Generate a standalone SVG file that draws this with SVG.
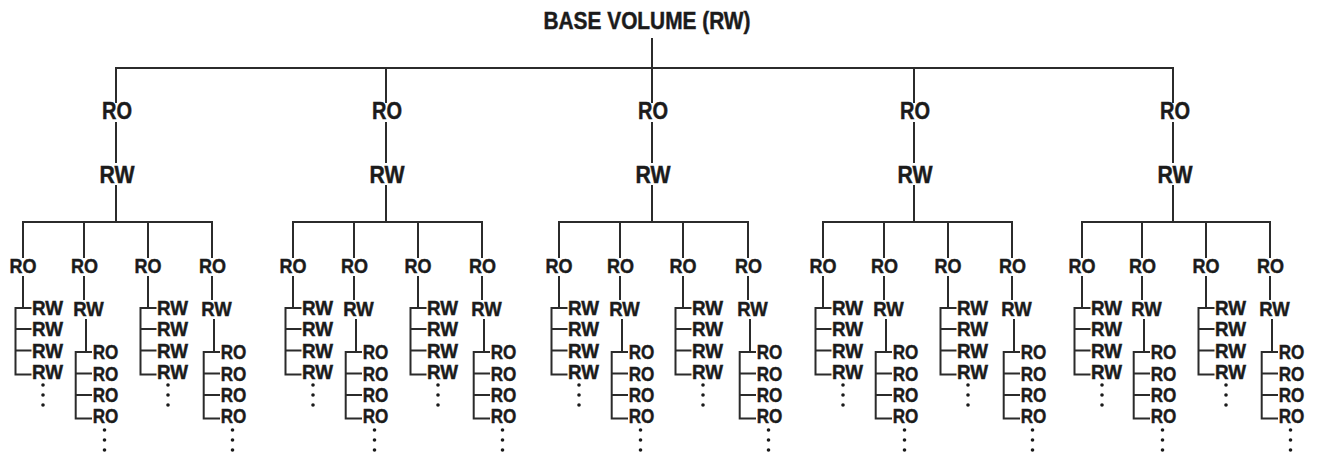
<svg xmlns="http://www.w3.org/2000/svg" xmlns:xlink="http://www.w3.org/1999/xlink" width="1320" height="453" viewBox="0 0 1320 453">
<style>
.t{font-family:"Liberation Sans",Arial,sans-serif;font-weight:bold;fill:#1b1b1b;stroke:#1b1b1b;stroke-width:0.45px}
.top{font-size:23px;text-anchor:middle}
.l1{font-size:23.5px;text-anchor:middle}
.l2{font-size:21px;text-anchor:middle}
.l2b{font-size:20.5px;text-anchor:middle}
.li{font-size:20px}
.c{fill:none;stroke:#2b2b2b;stroke-width:2;stroke-linecap:square}
.d{fill:#1b1b1b}
</style>
<defs>
<path id="ca" class="c" d="M0,222V257 M0,277V308 M-7.5,308V374.5 M-7.5,308H7.5 M-7.5,329H7.5 M-7.5,350.5H7.5 M-7.5,374.5H7.5"/>
<path id="cb" class="c" d="M0,222V257 M0,277V299 M2,320V352 M-8.3,352V418.5 M-8.3,352H7 M-8.3,373.5H7 M-8.3,395H7 M-8.3,418.5H7"/>
<g id="dots" class="d"><circle cx="0" cy="0" r="1.8"/><circle cx="0" cy="10" r="1.8"/><circle cx="0" cy="20" r="1.8"/></g>
</defs>
<rect width="1320" height="453" fill="#ffffff"/>
<g id="connectors">
<path class="c" d="M652,39V68 M116,68H1173"/>
<path class="c" d="M116,68V102 M116,123V162 M116,186V222 M23,222H212"/>
<path class="c" d="M386,68V102 M386,123V162 M386,186V222 M293,222H482"/>
<path class="c" d="M652,68V102 M652,123V162 M652,186V222 M559,222H748"/>
<path class="c" d="M914,68V102 M914,123V162 M914,186V222 M823,222H1012"/>
<path class="c" d="M1173,68V102 M1173,123V162 M1173,186V222 M1082,222H1270"/>
<use xlink:href="#ca" x="23"/><use xlink:href="#cb" x="84"/><use xlink:href="#ca" x="148"/><use xlink:href="#cb" x="212"/>
<use xlink:href="#ca" x="293"/><use xlink:href="#cb" x="354"/><use xlink:href="#ca" x="418"/><use xlink:href="#cb" x="482"/>
<use xlink:href="#ca" x="559"/><use xlink:href="#cb" x="620"/><use xlink:href="#ca" x="683"/><use xlink:href="#cb" x="748"/>
<use xlink:href="#ca" x="823"/><use xlink:href="#cb" x="884"/><use xlink:href="#ca" x="948"/><use xlink:href="#cb" x="1012"/>
<use xlink:href="#ca" x="1082"/><use xlink:href="#cb" x="1142"/><use xlink:href="#ca" x="1206"/><use xlink:href="#cb" x="1270"/>
</g>
<g id="base"><text class="t top" x="647" y="29" textLength="207" lengthAdjust="spacingAndGlyphs">BASE VOLUME (RW)</text></g>

<g id="s1" transform="translate(116,0)">
<g id="s1-ro"><text class="t l1" x="1" y="119" textLength="30" lengthAdjust="spacingAndGlyphs">RO</text></g>
<g id="s1-rw"><text class="t l1" x="1" y="183" textLength="35" lengthAdjust="spacingAndGlyphs">RW</text></g>
</g>
<g id="s2" transform="translate(386,0)">
<g id="s2-ro"><text class="t l1" x="1" y="119" textLength="30" lengthAdjust="spacingAndGlyphs">RO</text></g>
<g id="s2-rw"><text class="t l1" x="1" y="183" textLength="35" lengthAdjust="spacingAndGlyphs">RW</text></g>
</g>
<g id="s3" transform="translate(652,0)">
<g id="s3-ro"><text class="t l1" x="1" y="119" textLength="30" lengthAdjust="spacingAndGlyphs">RO</text></g>
<g id="s3-rw"><text class="t l1" x="1" y="183" textLength="35" lengthAdjust="spacingAndGlyphs">RW</text></g>
</g>
<g id="s4" transform="translate(914,0)">
<g id="s4-ro"><text class="t l1" x="1" y="119" textLength="30" lengthAdjust="spacingAndGlyphs">RO</text></g>
<g id="s4-rw"><text class="t l1" x="1" y="183" textLength="35" lengthAdjust="spacingAndGlyphs">RW</text></g>
</g>
<g id="s5" transform="translate(1173,0)">
<g id="s5-ro"><text class="t l1" x="2" y="119" textLength="30" lengthAdjust="spacingAndGlyphs">RO</text></g>
<g id="s5-rw"><text class="t l1" x="2" y="183" textLength="35" lengthAdjust="spacingAndGlyphs">RW</text></g>
</g>

<!-- subtree 1 children -->
<g id="s1-a1" transform="translate(23,0)">
<g id="s1-a1-ro"><text class="t l2" y="273" textLength="27" lengthAdjust="spacingAndGlyphs">RO</text></g>
<g id="s1-a1-rw1"><text class="t li" x="9" y="315" textLength="31" lengthAdjust="spacingAndGlyphs">RW</text></g>
<g id="s1-a1-rw2"><text class="t li" x="9" y="336" textLength="31" lengthAdjust="spacingAndGlyphs">RW</text></g>
<g id="s1-a1-rw3"><text class="t li" x="9" y="357.5" textLength="31" lengthAdjust="spacingAndGlyphs">RW</text></g>
<g id="s1-a1-rw4"><text class="t li" x="9" y="378.5" textLength="31" lengthAdjust="spacingAndGlyphs">RW</text></g>
<use xlink:href="#dots" x="20" y="385"/>
</g>
<g id="s1-b1" transform="translate(84,0)">
<g id="s1-b1-ro"><text class="t l2" x="0.5" y="273" textLength="27" lengthAdjust="spacingAndGlyphs">RO</text></g>
<g id="s1-b1-rw"><text class="t l2b" x="4.5" y="316" textLength="30.5" lengthAdjust="spacingAndGlyphs">RW</text></g>
<g id="s1-b1-ro1"><text class="t li" x="8.7" y="359.3" textLength="25.6" lengthAdjust="spacingAndGlyphs">RO</text></g>
<g id="s1-b1-ro2"><text class="t li" x="8.7" y="381" textLength="25.6" lengthAdjust="spacingAndGlyphs">RO</text></g>
<g id="s1-b1-ro3"><text class="t li" x="8.7" y="402" textLength="25.6" lengthAdjust="spacingAndGlyphs">RO</text></g>
<g id="s1-b1-ro4"><text class="t li" x="8.7" y="423.3" textLength="25.6" lengthAdjust="spacingAndGlyphs">RO</text></g>
<use xlink:href="#dots" x="20.5" y="430"/>
</g>
<g id="s1-a2" transform="translate(148,0)">
<g id="s1-a2-ro"><text class="t l2" y="273" textLength="27" lengthAdjust="spacingAndGlyphs">RO</text></g>
<g id="s1-a2-rw1"><text class="t li" x="9" y="315" textLength="31" lengthAdjust="spacingAndGlyphs">RW</text></g>
<g id="s1-a2-rw2"><text class="t li" x="9" y="336" textLength="31" lengthAdjust="spacingAndGlyphs">RW</text></g>
<g id="s1-a2-rw3"><text class="t li" x="9" y="357.5" textLength="31" lengthAdjust="spacingAndGlyphs">RW</text></g>
<g id="s1-a2-rw4"><text class="t li" x="9" y="378.5" textLength="31" lengthAdjust="spacingAndGlyphs">RW</text></g>
<use xlink:href="#dots" x="20" y="385"/>
</g>
<g id="s1-b2" transform="translate(212,0)">
<g id="s1-b2-ro"><text class="t l2" x="0.5" y="273" textLength="27" lengthAdjust="spacingAndGlyphs">RO</text></g>
<g id="s1-b2-rw"><text class="t l2b" x="4.5" y="316" textLength="30.5" lengthAdjust="spacingAndGlyphs">RW</text></g>
<g id="s1-b2-ro1"><text class="t li" x="8.7" y="359.3" textLength="25.6" lengthAdjust="spacingAndGlyphs">RO</text></g>
<g id="s1-b2-ro2"><text class="t li" x="8.7" y="381" textLength="25.6" lengthAdjust="spacingAndGlyphs">RO</text></g>
<g id="s1-b2-ro3"><text class="t li" x="8.7" y="402" textLength="25.6" lengthAdjust="spacingAndGlyphs">RO</text></g>
<g id="s1-b2-ro4"><text class="t li" x="8.7" y="423.3" textLength="25.6" lengthAdjust="spacingAndGlyphs">RO</text></g>
<use xlink:href="#dots" x="20.5" y="430"/>
</g>

<!-- subtree 2 children -->
<g id="s2-a1" transform="translate(293,0)">
<g id="s2-a1-ro"><text class="t l2" y="273" textLength="27" lengthAdjust="spacingAndGlyphs">RO</text></g>
<g id="s2-a1-rw1"><text class="t li" x="9" y="315" textLength="31" lengthAdjust="spacingAndGlyphs">RW</text></g>
<g id="s2-a1-rw2"><text class="t li" x="9" y="336" textLength="31" lengthAdjust="spacingAndGlyphs">RW</text></g>
<g id="s2-a1-rw3"><text class="t li" x="9" y="357.5" textLength="31" lengthAdjust="spacingAndGlyphs">RW</text></g>
<g id="s2-a1-rw4"><text class="t li" x="9" y="378.5" textLength="31" lengthAdjust="spacingAndGlyphs">RW</text></g>
<use xlink:href="#dots" x="20" y="385"/>
</g>
<g id="s2-b1" transform="translate(354,0)">
<g id="s2-b1-ro"><text class="t l2" x="0.5" y="273" textLength="27" lengthAdjust="spacingAndGlyphs">RO</text></g>
<g id="s2-b1-rw"><text class="t l2b" x="4.5" y="316" textLength="30.5" lengthAdjust="spacingAndGlyphs">RW</text></g>
<g id="s2-b1-ro1"><text class="t li" x="8.7" y="359.3" textLength="25.6" lengthAdjust="spacingAndGlyphs">RO</text></g>
<g id="s2-b1-ro2"><text class="t li" x="8.7" y="381" textLength="25.6" lengthAdjust="spacingAndGlyphs">RO</text></g>
<g id="s2-b1-ro3"><text class="t li" x="8.7" y="402" textLength="25.6" lengthAdjust="spacingAndGlyphs">RO</text></g>
<g id="s2-b1-ro4"><text class="t li" x="8.7" y="423.3" textLength="25.6" lengthAdjust="spacingAndGlyphs">RO</text></g>
<use xlink:href="#dots" x="20.5" y="430"/>
</g>
<g id="s2-a2" transform="translate(418,0)">
<g id="s2-a2-ro"><text class="t l2" y="273" textLength="27" lengthAdjust="spacingAndGlyphs">RO</text></g>
<g id="s2-a2-rw1"><text class="t li" x="9" y="315" textLength="31" lengthAdjust="spacingAndGlyphs">RW</text></g>
<g id="s2-a2-rw2"><text class="t li" x="9" y="336" textLength="31" lengthAdjust="spacingAndGlyphs">RW</text></g>
<g id="s2-a2-rw3"><text class="t li" x="9" y="357.5" textLength="31" lengthAdjust="spacingAndGlyphs">RW</text></g>
<g id="s2-a2-rw4"><text class="t li" x="9" y="378.5" textLength="31" lengthAdjust="spacingAndGlyphs">RW</text></g>
<use xlink:href="#dots" x="20" y="385"/>
</g>
<g id="s2-b2" transform="translate(482,0)">
<g id="s2-b2-ro"><text class="t l2" x="0.5" y="273" textLength="27" lengthAdjust="spacingAndGlyphs">RO</text></g>
<g id="s2-b2-rw"><text class="t l2b" x="4.5" y="316" textLength="30.5" lengthAdjust="spacingAndGlyphs">RW</text></g>
<g id="s2-b2-ro1"><text class="t li" x="8.7" y="359.3" textLength="25.6" lengthAdjust="spacingAndGlyphs">RO</text></g>
<g id="s2-b2-ro2"><text class="t li" x="8.7" y="381" textLength="25.6" lengthAdjust="spacingAndGlyphs">RO</text></g>
<g id="s2-b2-ro3"><text class="t li" x="8.7" y="402" textLength="25.6" lengthAdjust="spacingAndGlyphs">RO</text></g>
<g id="s2-b2-ro4"><text class="t li" x="8.7" y="423.3" textLength="25.6" lengthAdjust="spacingAndGlyphs">RO</text></g>
<use xlink:href="#dots" x="20.5" y="430"/>
</g>

<!-- subtree 3 children -->
<g id="s3-a1" transform="translate(559,0)">
<g id="s3-a1-ro"><text class="t l2" y="273" textLength="27" lengthAdjust="spacingAndGlyphs">RO</text></g>
<g id="s3-a1-rw1"><text class="t li" x="9" y="315" textLength="31" lengthAdjust="spacingAndGlyphs">RW</text></g>
<g id="s3-a1-rw2"><text class="t li" x="9" y="336" textLength="31" lengthAdjust="spacingAndGlyphs">RW</text></g>
<g id="s3-a1-rw3"><text class="t li" x="9" y="357.5" textLength="31" lengthAdjust="spacingAndGlyphs">RW</text></g>
<g id="s3-a1-rw4"><text class="t li" x="9" y="378.5" textLength="31" lengthAdjust="spacingAndGlyphs">RW</text></g>
<use xlink:href="#dots" x="20" y="385"/>
</g>
<g id="s3-b1" transform="translate(620,0)">
<g id="s3-b1-ro"><text class="t l2" x="0.5" y="273" textLength="27" lengthAdjust="spacingAndGlyphs">RO</text></g>
<g id="s3-b1-rw"><text class="t l2b" x="4.5" y="316" textLength="30.5" lengthAdjust="spacingAndGlyphs">RW</text></g>
<g id="s3-b1-ro1"><text class="t li" x="8.7" y="359.3" textLength="25.6" lengthAdjust="spacingAndGlyphs">RO</text></g>
<g id="s3-b1-ro2"><text class="t li" x="8.7" y="381" textLength="25.6" lengthAdjust="spacingAndGlyphs">RO</text></g>
<g id="s3-b1-ro3"><text class="t li" x="8.7" y="402" textLength="25.6" lengthAdjust="spacingAndGlyphs">RO</text></g>
<g id="s3-b1-ro4"><text class="t li" x="8.7" y="423.3" textLength="25.6" lengthAdjust="spacingAndGlyphs">RO</text></g>
<use xlink:href="#dots" x="20.5" y="430"/>
</g>
<g id="s3-a2" transform="translate(683,0)">
<g id="s3-a2-ro"><text class="t l2" y="273" textLength="27" lengthAdjust="spacingAndGlyphs">RO</text></g>
<g id="s3-a2-rw1"><text class="t li" x="9" y="315" textLength="31" lengthAdjust="spacingAndGlyphs">RW</text></g>
<g id="s3-a2-rw2"><text class="t li" x="9" y="336" textLength="31" lengthAdjust="spacingAndGlyphs">RW</text></g>
<g id="s3-a2-rw3"><text class="t li" x="9" y="357.5" textLength="31" lengthAdjust="spacingAndGlyphs">RW</text></g>
<g id="s3-a2-rw4"><text class="t li" x="9" y="378.5" textLength="31" lengthAdjust="spacingAndGlyphs">RW</text></g>
<use xlink:href="#dots" x="20" y="385"/>
</g>
<g id="s3-b2" transform="translate(748,0)">
<g id="s3-b2-ro"><text class="t l2" x="0.5" y="273" textLength="27" lengthAdjust="spacingAndGlyphs">RO</text></g>
<g id="s3-b2-rw"><text class="t l2b" x="4.5" y="316" textLength="30.5" lengthAdjust="spacingAndGlyphs">RW</text></g>
<g id="s3-b2-ro1"><text class="t li" x="8.7" y="359.3" textLength="25.6" lengthAdjust="spacingAndGlyphs">RO</text></g>
<g id="s3-b2-ro2"><text class="t li" x="8.7" y="381" textLength="25.6" lengthAdjust="spacingAndGlyphs">RO</text></g>
<g id="s3-b2-ro3"><text class="t li" x="8.7" y="402" textLength="25.6" lengthAdjust="spacingAndGlyphs">RO</text></g>
<g id="s3-b2-ro4"><text class="t li" x="8.7" y="423.3" textLength="25.6" lengthAdjust="spacingAndGlyphs">RO</text></g>
<use xlink:href="#dots" x="20.5" y="430"/>
</g>

<!-- subtree 4 children -->
<g id="s4-a1" transform="translate(823,0)">
<g id="s4-a1-ro"><text class="t l2" y="273" textLength="27" lengthAdjust="spacingAndGlyphs">RO</text></g>
<g id="s4-a1-rw1"><text class="t li" x="9" y="315" textLength="31" lengthAdjust="spacingAndGlyphs">RW</text></g>
<g id="s4-a1-rw2"><text class="t li" x="9" y="336" textLength="31" lengthAdjust="spacingAndGlyphs">RW</text></g>
<g id="s4-a1-rw3"><text class="t li" x="9" y="357.5" textLength="31" lengthAdjust="spacingAndGlyphs">RW</text></g>
<g id="s4-a1-rw4"><text class="t li" x="9" y="378.5" textLength="31" lengthAdjust="spacingAndGlyphs">RW</text></g>
<use xlink:href="#dots" x="20" y="385"/>
</g>
<g id="s4-b1" transform="translate(884,0)">
<g id="s4-b1-ro"><text class="t l2" x="0.5" y="273" textLength="27" lengthAdjust="spacingAndGlyphs">RO</text></g>
<g id="s4-b1-rw"><text class="t l2b" x="4.5" y="316" textLength="30.5" lengthAdjust="spacingAndGlyphs">RW</text></g>
<g id="s4-b1-ro1"><text class="t li" x="8.7" y="359.3" textLength="25.6" lengthAdjust="spacingAndGlyphs">RO</text></g>
<g id="s4-b1-ro2"><text class="t li" x="8.7" y="381" textLength="25.6" lengthAdjust="spacingAndGlyphs">RO</text></g>
<g id="s4-b1-ro3"><text class="t li" x="8.7" y="402" textLength="25.6" lengthAdjust="spacingAndGlyphs">RO</text></g>
<g id="s4-b1-ro4"><text class="t li" x="8.7" y="423.3" textLength="25.6" lengthAdjust="spacingAndGlyphs">RO</text></g>
<use xlink:href="#dots" x="20.5" y="430"/>
</g>
<g id="s4-a2" transform="translate(948,0)">
<g id="s4-a2-ro"><text class="t l2" y="273" textLength="27" lengthAdjust="spacingAndGlyphs">RO</text></g>
<g id="s4-a2-rw1"><text class="t li" x="9" y="315" textLength="31" lengthAdjust="spacingAndGlyphs">RW</text></g>
<g id="s4-a2-rw2"><text class="t li" x="9" y="336" textLength="31" lengthAdjust="spacingAndGlyphs">RW</text></g>
<g id="s4-a2-rw3"><text class="t li" x="9" y="357.5" textLength="31" lengthAdjust="spacingAndGlyphs">RW</text></g>
<g id="s4-a2-rw4"><text class="t li" x="9" y="378.5" textLength="31" lengthAdjust="spacingAndGlyphs">RW</text></g>
<use xlink:href="#dots" x="20" y="385"/>
</g>
<g id="s4-b2" transform="translate(1012,0)">
<g id="s4-b2-ro"><text class="t l2" x="0.5" y="273" textLength="27" lengthAdjust="spacingAndGlyphs">RO</text></g>
<g id="s4-b2-rw"><text class="t l2b" x="4.5" y="316" textLength="30.5" lengthAdjust="spacingAndGlyphs">RW</text></g>
<g id="s4-b2-ro1"><text class="t li" x="8.7" y="359.3" textLength="25.6" lengthAdjust="spacingAndGlyphs">RO</text></g>
<g id="s4-b2-ro2"><text class="t li" x="8.7" y="381" textLength="25.6" lengthAdjust="spacingAndGlyphs">RO</text></g>
<g id="s4-b2-ro3"><text class="t li" x="8.7" y="402" textLength="25.6" lengthAdjust="spacingAndGlyphs">RO</text></g>
<g id="s4-b2-ro4"><text class="t li" x="8.7" y="423.3" textLength="25.6" lengthAdjust="spacingAndGlyphs">RO</text></g>
<use xlink:href="#dots" x="20.5" y="430"/>
</g>

<!-- subtree 5 children -->
<g id="s5-a1" transform="translate(1082,0)">
<g id="s5-a1-ro"><text class="t l2" y="273" textLength="27" lengthAdjust="spacingAndGlyphs">RO</text></g>
<g id="s5-a1-rw1"><text class="t li" x="9" y="315" textLength="31" lengthAdjust="spacingAndGlyphs">RW</text></g>
<g id="s5-a1-rw2"><text class="t li" x="9" y="336" textLength="31" lengthAdjust="spacingAndGlyphs">RW</text></g>
<g id="s5-a1-rw3"><text class="t li" x="9" y="357.5" textLength="31" lengthAdjust="spacingAndGlyphs">RW</text></g>
<g id="s5-a1-rw4"><text class="t li" x="9" y="378.5" textLength="31" lengthAdjust="spacingAndGlyphs">RW</text></g>
<use xlink:href="#dots" x="20" y="385"/>
</g>
<g id="s5-b1" transform="translate(1142,0)">
<g id="s5-b1-ro"><text class="t l2" x="0.5" y="273" textLength="27" lengthAdjust="spacingAndGlyphs">RO</text></g>
<g id="s5-b1-rw"><text class="t l2b" x="4.5" y="316" textLength="30.5" lengthAdjust="spacingAndGlyphs">RW</text></g>
<g id="s5-b1-ro1"><text class="t li" x="8.7" y="359.3" textLength="25.6" lengthAdjust="spacingAndGlyphs">RO</text></g>
<g id="s5-b1-ro2"><text class="t li" x="8.7" y="381" textLength="25.6" lengthAdjust="spacingAndGlyphs">RO</text></g>
<g id="s5-b1-ro3"><text class="t li" x="8.7" y="402" textLength="25.6" lengthAdjust="spacingAndGlyphs">RO</text></g>
<g id="s5-b1-ro4"><text class="t li" x="8.7" y="423.3" textLength="25.6" lengthAdjust="spacingAndGlyphs">RO</text></g>
<use xlink:href="#dots" x="20.5" y="430"/>
</g>
<g id="s5-a2" transform="translate(1206,0)">
<g id="s5-a2-ro"><text class="t l2" y="273" textLength="27" lengthAdjust="spacingAndGlyphs">RO</text></g>
<g id="s5-a2-rw1"><text class="t li" x="9" y="315" textLength="31" lengthAdjust="spacingAndGlyphs">RW</text></g>
<g id="s5-a2-rw2"><text class="t li" x="9" y="336" textLength="31" lengthAdjust="spacingAndGlyphs">RW</text></g>
<g id="s5-a2-rw3"><text class="t li" x="9" y="357.5" textLength="31" lengthAdjust="spacingAndGlyphs">RW</text></g>
<g id="s5-a2-rw4"><text class="t li" x="9" y="378.5" textLength="31" lengthAdjust="spacingAndGlyphs">RW</text></g>
<use xlink:href="#dots" x="20" y="385"/>
</g>
<g id="s5-b2" transform="translate(1270,0)">
<g id="s5-b2-ro"><text class="t l2" x="0.5" y="273" textLength="27" lengthAdjust="spacingAndGlyphs">RO</text></g>
<g id="s5-b2-rw"><text class="t l2b" x="4.5" y="316" textLength="30.5" lengthAdjust="spacingAndGlyphs">RW</text></g>
<g id="s5-b2-ro1"><text class="t li" x="8.7" y="359.3" textLength="25.6" lengthAdjust="spacingAndGlyphs">RO</text></g>
<g id="s5-b2-ro2"><text class="t li" x="8.7" y="381" textLength="25.6" lengthAdjust="spacingAndGlyphs">RO</text></g>
<g id="s5-b2-ro3"><text class="t li" x="8.7" y="402" textLength="25.6" lengthAdjust="spacingAndGlyphs">RO</text></g>
<g id="s5-b2-ro4"><text class="t li" x="8.7" y="423.3" textLength="25.6" lengthAdjust="spacingAndGlyphs">RO</text></g>
<use xlink:href="#dots" x="20.5" y="430"/>
</g>
</svg>
